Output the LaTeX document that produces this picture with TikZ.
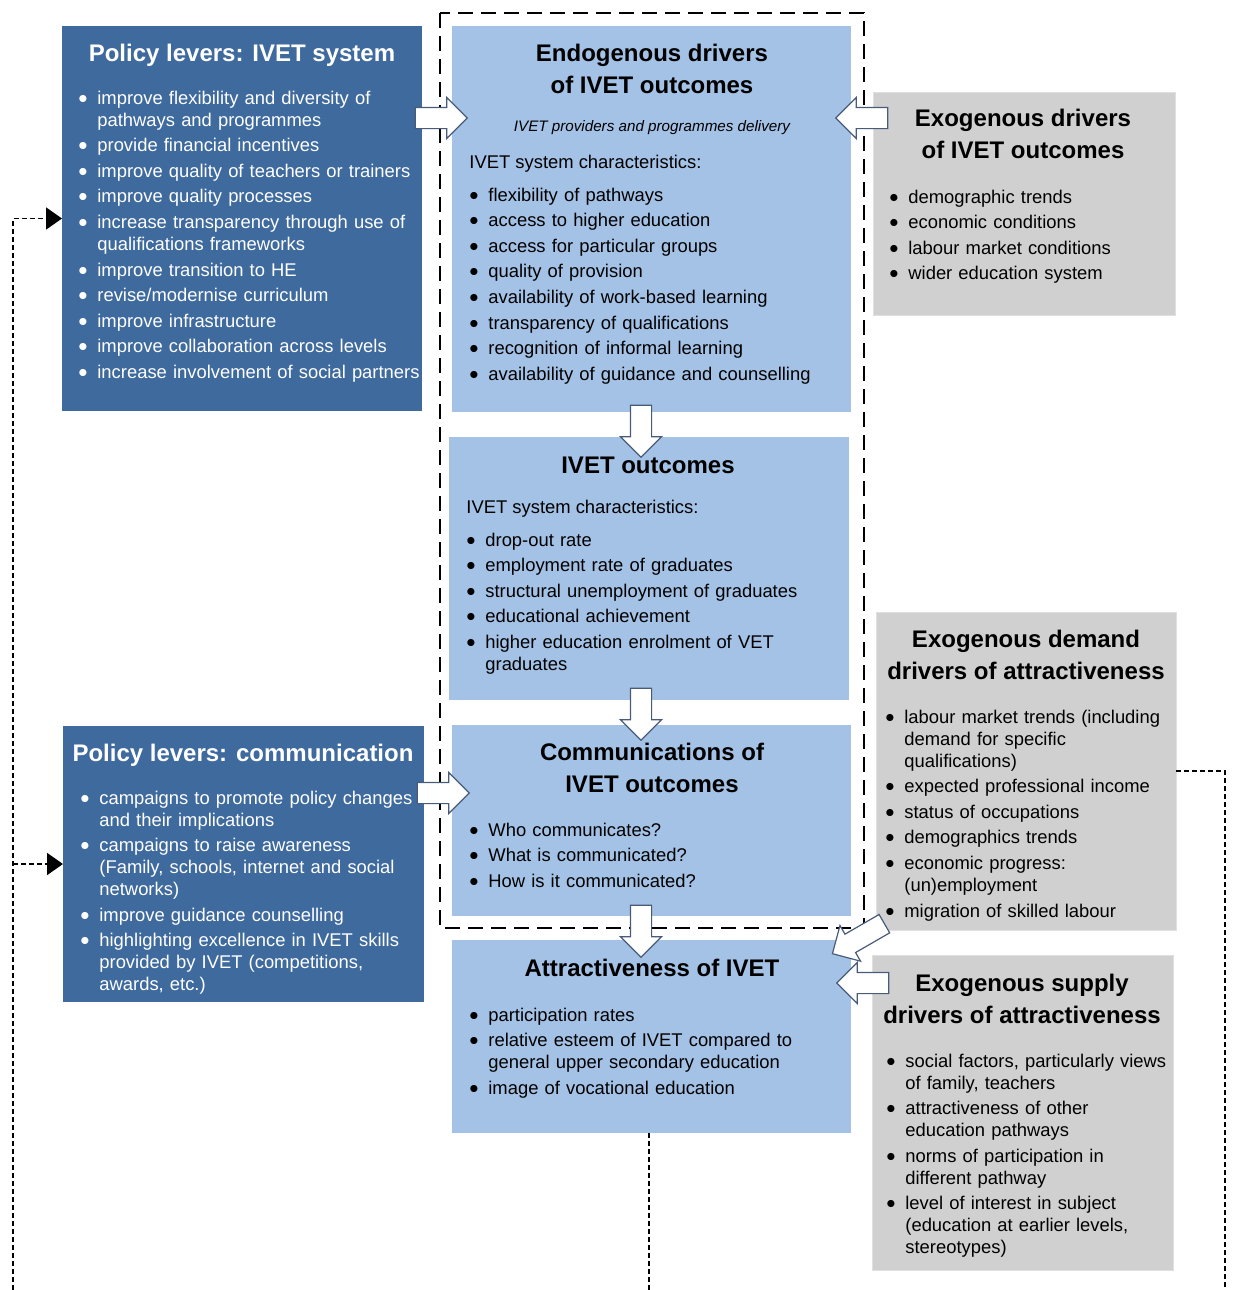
\documentclass[tikz,border=0pt]{standalone}
\usepackage{fontspec}
\setmainfont{Liberation Sans}
\usetikzlibrary{arrows.meta,shapes.arrows}

\definecolor{leverblue}{RGB}{62,106,158}
\definecolor{driverblue}{RGB}{163,194,230}
\definecolor{exogrey}{RGB}{208,208,208}
\definecolor{arrowline}{RGB}{72,92,122}

% bullet item with hanging indent
\newcommand\bi{\par\hangindent=7.5pt\hangafter=1\noindent\strut
  \hbox to 7.5pt{\kern-2pt\raisebox{0.5pt}{$\bullet$}\hfil}}

\tikzset{
  box/.style={inner sep=0pt, outer sep=0pt, anchor=north west},
  lever/.style={box, fill=leverblue},
  driver/.style={box, fill=driverblue},
  exo/.style={box, fill=exogrey, draw=black!12, line width=0.5pt},
  boxtitle/.style={anchor=north, inner sep=0pt, align=center, font=\fontsize{12}{16}\selectfont\bfseries},
  items/.style={anchor=north west, inner sep=0pt, text width=190pt, align=left,
    font=\fontsize{9.2}{11}\selectfont, execute at begin node=\setlength\parskip{1.8pt}},
  blockarrow/.style={single arrow, draw=arrowline, fill=white, line width=0.6pt,
    inner xsep=0pt, inner ysep=5pt, single arrow head extend=5pt,
    minimum width=20pt, minimum height=26pt},
  group/.style={dash pattern=on 7.5pt off 4pt, line width=1.2pt},
  feedback/.style={dash pattern=on 2.5pt off 1.5pt, line width=0.9pt}
}

\begin{document}
\begin{tikzpicture}[x=0.5pt,y=-0.5pt,>={Triangle[length=8pt,width=11pt]}]
  \useasboundingbox (0,0) rectangle (1232,1290);
  % Kaesten
  \node[lever, minimum width=180pt, minimum height=192.5pt] (ivetlevers) at (62,26) {};
  \node[driver, minimum width=199.5pt, minimum height=193pt] (endo) at (452,26) {};
  \node[exo, minimum width=151pt, minimum height=111.5pt] (exoivet) at (873,92) {};
  \node[driver, minimum width=200pt, minimum height=131.5pt] (outcomes) at (449,437) {};
  \node[exo, minimum width=150pt, minimum height=159pt] (demand) at (876,612) {};
  \node[lever, minimum width=180.5pt, minimum height=138pt] (commlevers) at (63,726) {};
  \node[driver, minimum width=199.5pt, minimum height=95.5pt] (comm) at (452,725) {};
  \node[driver, minimum width=199.5pt, minimum height=96.5pt] (attract) at (452,940) {};
  \node[exo, minimum width=150.5pt, minimum height=157.5pt] (supply) at (872,955) {};
  % gestrichelter Rahmen
  \draw[group] (440,13) rectangle (864,928);
  % Titel
  \node[boxtitle, text=white] (ivetlevers-title) at (242,44) {Policy levers: IVET system};
  \node[boxtitle] (endo-title) at (652,44) {Endogenous drivers\\of IVET outcomes};
  \node[boxtitle] (exoivet-title) at (1023,109) {Exogenous drivers\\of IVET outcomes};
  \node[boxtitle] (outcomes-title) at (648,457) {IVET outcomes};
  \node[boxtitle] (demand-title) at (1026,630) {Exogenous demand\\drivers of attractiveness};
  \node[boxtitle, text=white] (commlevers-title) at (243,744) {Policy levers: communication};
  \node[boxtitle] (comm-title) at (652,743) {Communications of\\IVET outcomes};
  \node[boxtitle] (attract-title) at (652,959) {Attractiveness of IVET};
  \node[boxtitle] (supply-title) at (1022,974) {Exogenous supply\\drivers of attractiveness};
  \node[font=\fontsize{7.6}{9}\selectfont\itshape] (endo-sub) at (652,128) {IVET providers and programmes delivery};
  \node[anchor=west, inner sep=0pt, font=\fontsize{9.2}{11}\selectfont] (endo-head) at (469,164) {IVET system characteristics:};
  \node[anchor=west, inner sep=0pt, font=\fontsize{9.2}{11}\selectfont] (outcomes-head) at (466,509) {IVET system characteristics:};
  % Listen
  \node[items, text=white] (ivetlevers-list) at (82,78) {%
    \bi improve flexibility and diversity of\newline pathways and programmes
    \bi provide financial incentives
    \bi improve quality of teachers or trainers
    \bi improve quality processes
    \bi increase transparency through use of\newline qualifications frameworks
    \bi improve transition to HE
    \bi revise/modernise curriculum
    \bi improve infrastructure
    \bi improve collaboration across levels
    \bi increase involvement of social partners\par};
  \node[items] (endo-list) at (473,175) {%
    \bi flexibility of pathways
    \bi access to higher education
    \bi access for particular groups
    \bi quality of provision
    \bi availability of work-based learning
    \bi transparency of qualifications
    \bi recognition of informal learning
    \bi availability of guidance and counselling\par};
  \node[items] (exoivet-list) at (893,177) {%
    \bi demographic trends
    \bi economic conditions
    \bi labour market conditions
    \bi wider education system\par};
  \node[items] (outcomes-list) at (470,520) {%
    \bi drop-out rate
    \bi employment rate of graduates
    \bi structural unemployment of graduates
    \bi educational achievement
    \bi higher education enrolment of VET\newline graduates\par};
  \node[items] (demand-list) at (889,697) {%
    \bi labour market trends (including\newline demand for specific\newline qualifications)
    \bi expected professional income
    \bi status of occupations
    \bi demographics trends
    \bi economic progress:\newline (un)employment
    \bi migration of skilled labour\par};
  \node[items, text=white] (commlevers-list) at (84,778) {%
    \bi campaigns to promote policy changes\newline and their implications
    \bi campaigns to raise awareness\newline (Family, schools, internet and social\newline networks)
    \bi improve guidance counselling
    \bi highlighting excellence in IVET skills\newline provided by IVET (competitions,\newline awards, etc.)\par};
  \node[items] (comm-list) at (473,810) {%
    \bi Who communicates?
    \bi What is communicated?
    \bi How is it communicated?\par};
  \node[items] (attract-list) at (473,995) {%
    \bi participation rates
    \bi relative esteem of IVET compared to\newline general upper secondary education
    \bi image of vocational education\par};
  \node[items] (supply-list) at (890,1041) {%
    \bi social factors, particularly views\newline of family, teachers
    \bi attractiveness of other\newline education pathways
    \bi norms of participation in\newline different pathway
    \bi level of interest in subject\newline (education at earlier levels,\newline stereotypes)\par};
  % Blockpfeile
  \node[blockarrow] (a1) at (436,118) {};
  \node[blockarrow, rotate=180] (a2) at (867,118) {};
  \node[blockarrow, rotate=-90] (a3) at (641,426) {};
  \node[blockarrow, rotate=-90] (a4) at (641,709) {};
  \node[blockarrow] (a5) at (438,793) {};
  \node[blockarrow, rotate=-90] (a6) at (641,926) {};
  \node[blockarrow, rotate=210, minimum height=30pt] (a7) at (863,936) {};
  \node[blockarrow, rotate=180] (a8) at (868,983) {};
  % Rueckkopplung
  \coordinate (loopL) at (13,1290);
  \coordinate (loopM) at (649,1290);
  \coordinate (loopR) at (1225,1290);
  \draw[feedback,->] (loopL) |- (ivetlevers.west);
  \draw[feedback,->] (loopL |- commlevers.west) -- (commlevers.west);
  \draw[feedback] (attract.south -| loopM) -- (loopM);
  \draw[feedback] (demand.east) -| (loopR);
\end{tikzpicture}
\end{document}
